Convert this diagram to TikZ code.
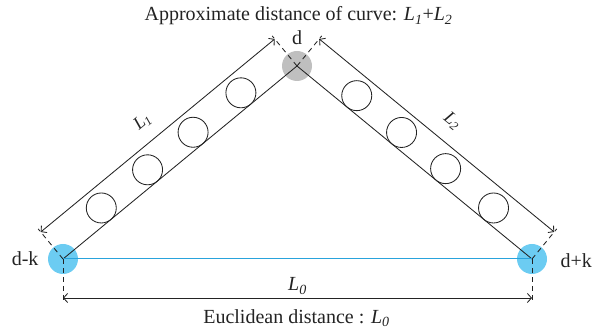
\documentclass[tikz,border=0pt]{standalone}
\usepackage{fontspec}
\setmainfont{Liberation Serif}
\usetikzlibrary{calc,arrows.meta}
\definecolor{dotblue}{RGB}{108,204,242}
\definecolor{lineblue}{RGB}{41,163,220}
\definecolor{ink}{RGB}{35,35,35}
\begin{document}
\begin{tikzpicture}[x=1pt,y=1pt,
  lbl/.style={font=\fontsize{20}{24}\selectfont, text=ink},
  dimlbl/.style={font=\fontsize{18}{22}\selectfont, text=ink, inner sep=1pt},
  dimline/.style={draw=ink, line width=0.85pt, {Straight Barb[length=4pt,width=9pt]}-{Straight Barb[length=4pt,width=9pt]}},
  ext/.style={draw=ink, line width=0.85pt, dash pattern=on 5pt off 4pt},
  edge/.style={draw=ink, line width=0.85pt},
  ball/.style={circle, draw=ink, line width=0.85pt, minimum size=30pt, inner sep=0pt},
  endpt/.style={circle, fill=dotblue, minimum size=30pt, inner sep=0pt},
  midpt/.style={circle, fill=black!25, minimum size=30pt, inner sep=0pt}]
\useasboundingbox (0,0) rectangle (598,331);

% points
\node[endpt] (dk) at (63,72) {};
\node[endpt] (dpk) at (532,72) {};
\node[midpt] (dt) at (297,265) {};

% labels
\node[lbl] (title) at (298.5,315) {Approximate distance of curve: \textit{L\textsubscript{1}}+\textit{L\textsubscript{2}}};
\node[lbl] (eucl) at (296.5,13) {Euclidean distance : \textit{L\textsubscript{0}}};
\node[lbl, anchor=east] (ldk) at (42,72) {d-k};
\node[lbl, anchor=west] (ldpk) at (557,70) {d+k};
\node[lbl] (ld) at (297,293) {d};

% dimension coordinates
\coordinate (a1) at ($(dk.center)!35pt!90:(dt.center)$);
\coordinate (a1e) at ($(dk.center)!39pt!90:(dt.center)$);
\coordinate (a2) at ($(dt.center)!35pt!-90:(dk.center)$);
\coordinate (a2e) at ($(dt.center)!39pt!-90:(dk.center)$);
\coordinate (b1) at ($(dt.center)!35pt!90:(dpk.center)$);
\coordinate (b1e) at ($(dt.center)!39pt!90:(dpk.center)$);
\coordinate (b2) at ($(dpk.center)!35pt!-90:(dt.center)$);
\coordinate (b2e) at ($(dpk.center)!39pt!-90:(dt.center)$);
\coordinate (c1) at (63,33);
\coordinate (c1e) at (63,28);
\coordinate (c2) at (532,33);
\coordinate (c2e) at (532,28);
\coordinate (m1) at ($(a1)!0.49!(a2)$);
\coordinate (m2) at ($(b1)!0.51!(b2)$);

% extension lines
\draw[ext] (dk.center) -- (a1e);
\draw[ext] (dt.center) -- (a2e);
\draw[ext] (dt.center) -- (b1e);
\draw[ext] (dpk.center) -- (b2e);
\draw[ext] (dk.center) -- (c1e);
\draw[ext] (dpk.center) -- (c2e);

% dimension lines
\draw[dimline] (a1) -- (a2);
\draw[dimline] (b1) -- (b2);
\draw[dimline] (c1) -- node[lbl, above=0pt] (l0) {\textit{L\textsubscript{0}}} (c2);
\node[dimlbl, rotate=39.5] (l1) at ($(m1)!20pt!90:(a2)$) {\textit{L\textsubscript{1}}};
\node[dimlbl, rotate=-39.4] (l2) at ($(m2)!21pt!-90:(b1)$) {\textit{L\textsubscript{2}}};

% main lines
\draw[edge] (dk.center) -- (dt.center);
\draw[edge] (dt.center) -- (dpk.center);
\draw[draw=lineblue, line width=1pt] (dk.center) -- (dpk.center);

% balls
\foreach \s [count=\i] in {62,122,181,243} {
  \coordinate (pl\i) at ($(dk.center)!\s pt!(dt.center)$);
  \node[ball] (bl\i) at ($(pl\i)!15pt!90:(dt.center)$) {};
}
\foreach \s [count=\i] in {65,123,180,242} {
  \coordinate (pr\i) at ($(dt.center)!\s pt!(dpk.center)$);
  \node[ball] (br\i) at ($(pr\i)!15pt!90:(dpk.center)$) {};
}
\end{tikzpicture}
\end{document}
